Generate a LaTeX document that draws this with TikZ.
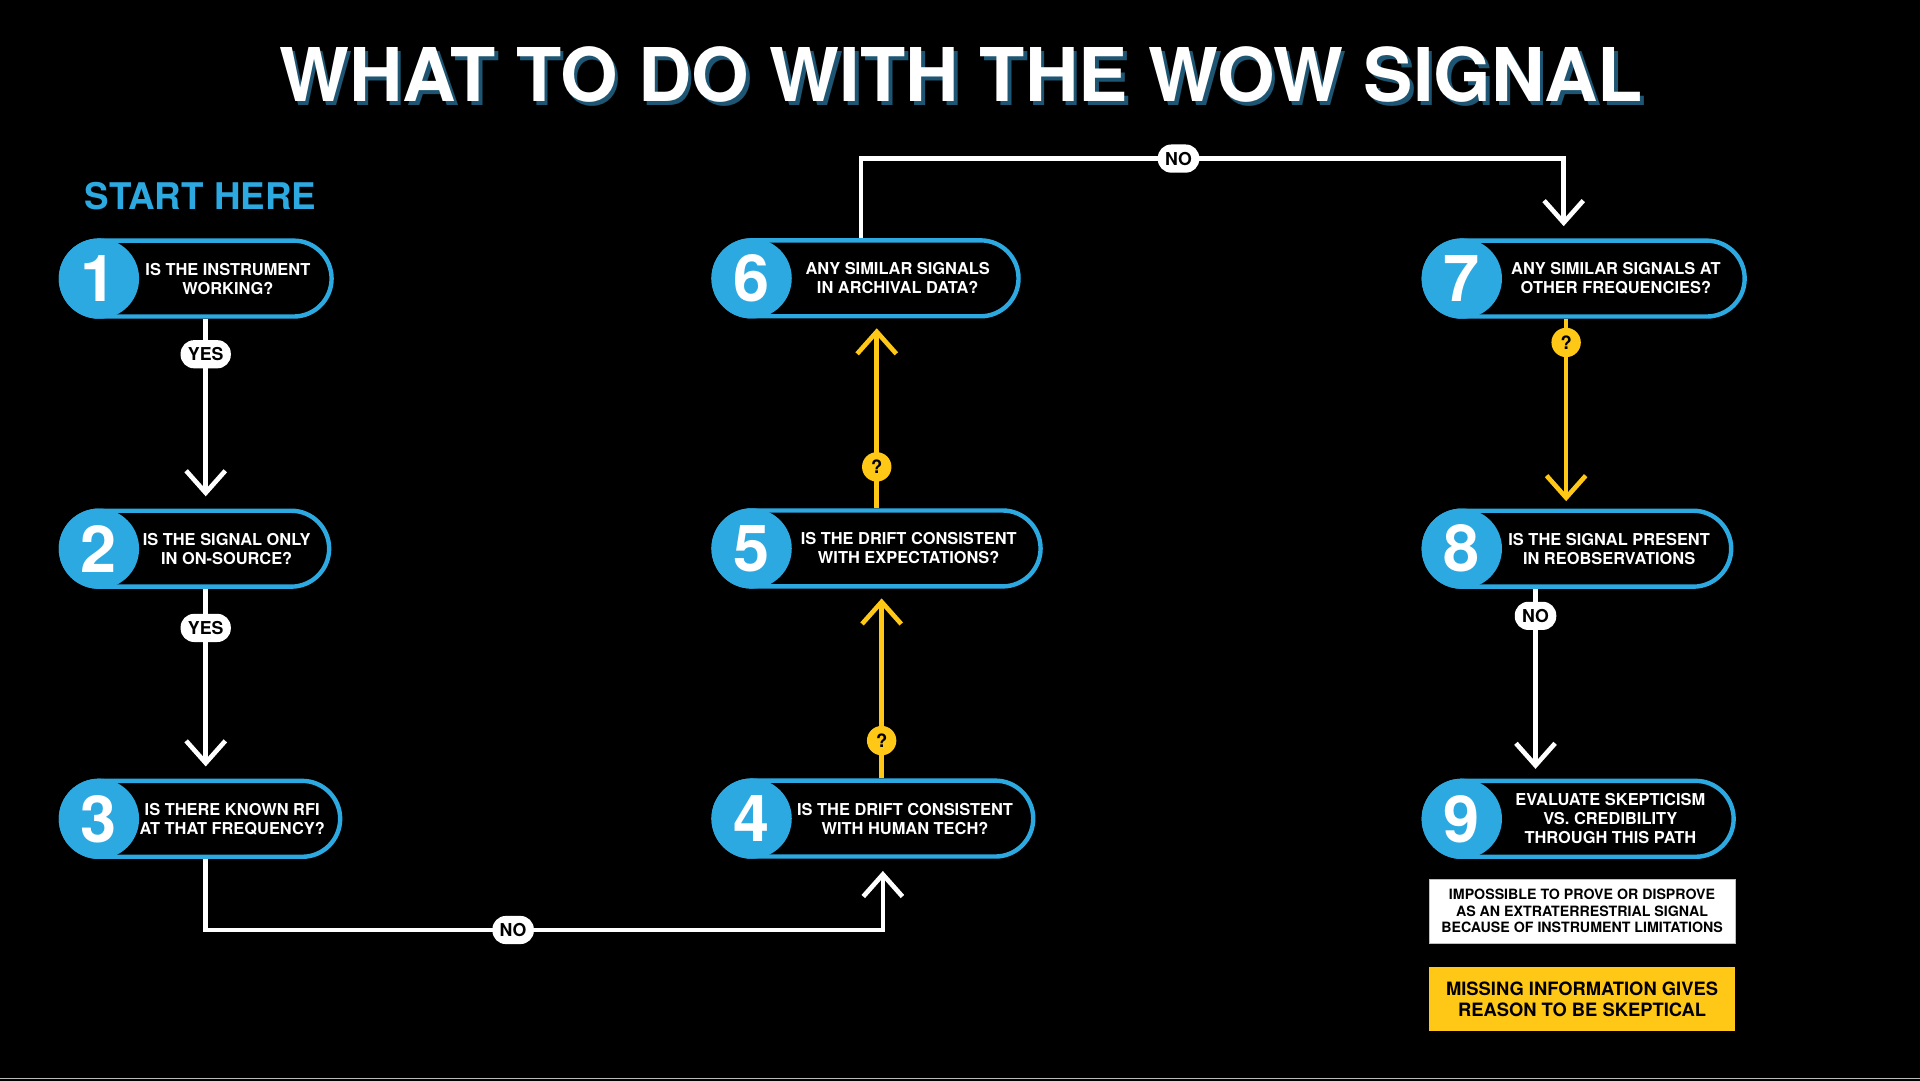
\documentclass[tikz,border=0pt]{standalone}
\usepackage{fontspec}
\setmainfont{TeX Gyre Heros}
\usetikzlibrary{positioning, arrows.meta, calc}

\definecolor{wowblue}{HTML}{2DA9E1}
\definecolor{wowyellow}{HTML}{FFC816}
\definecolor{wowshadow}{HTML}{1D5572}

\begin{document}
\begin{tikzpicture}[x=1pt, y=1pt,
	headline/.style={anchor=base, font=\fontsize{60.5}{60.5}\selectfont\bfseries},
	pill/.style={draw=wowblue, line width=3.6pt, fill=black, rounded corners=31pt, minimum height=62pt, inner sep=0pt},
	disc/.style={circle, draw=wowblue, fill=wowblue, line width=3.6pt, minimum size=62pt, inner sep=0pt, text=white, font=\fontsize{53}{53}\selectfont\bfseries},
	ask/.style={text=white, align=center, inner sep=0pt, xshift=-7pt, font=\fontsize{13.4}{15.5}\selectfont\bfseries},
	flow/.style={draw=white, line width=3.8pt, -{Straight Barb[length=18pt, width=32pt]}},
	maybe/.style={flow, draw=wowyellow},
	yes/.style={fill=white, text=black, rounded corners=11pt, minimum height=23pt, inner xsep=6pt, inner ysep=0pt, font=\fontsize{14.5}{14.5}\selectfont\bfseries},
	qmark/.style={circle, fill=wowyellow, text=black, minimum size=24pt, inner sep=0pt, font=\fontsize{15}{15}\selectfont\bfseries},
	note/.style={text=black, align=center, minimum width=250pt, minimum height=52pt, inner sep=0pt},
]
	\fill[black] (0,0) rectangle (1568,-882.8);
	\useasboundingbox (0,0) rectangle (1568,-882.8);
	\draw[gray!55, line width=1pt] (0,-880.5) -- (1568,-880.5);

	% title
	\node[headline, text=wowshadow] (shadow) at (788,-86) {WHAT TO DO WITH THE WOW SIGNAL};
	\node[headline, text=white] (title) at (785,-83) {WHAT TO DO WITH THE WOW SIGNAL};
	\node[anchor=base west, inner sep=0pt, text=wowblue, font=\fontsize{30}{30}\selectfont\bfseries] (start) at (69,-171.5) {START HERE};

	% first column
	\node[pill, anchor=west, minimum width=221pt] (q1) at (48,-227.5) {};
	\node[pill, below=155pt of q1.south west, anchor=north west, minimum width=219pt] (q2) {};
	\node[pill, below=155pt of q2.south west, anchor=north west, minimum width=228pt] (q3) {};
	% second column
	\node[pill, anchor=west, minimum width=261pt] (q4) at (581,-668.5) {};
	\node[pill, above=155pt of q4.north west, anchor=south west, minimum width=267pt] (q5) {};
	\node[pill, above=155pt of q5.north west, anchor=south west, minimum width=249pt] (q6) {};
	% third column
	\node[pill, anchor=west, minimum width=262pt] (q7) at (1161,-227.5) {};
	\node[pill, below=155pt of q7.south west, anchor=north west, minimum width=251pt] (q8) {};
	\node[pill, below=155pt of q8.south west, anchor=north west, minimum width=253pt] (q9) {};

	\node[disc, anchor=west] (n1) at (q1.west) {1};
	\node[disc, anchor=west] (n2) at (q2.west) {2};
	\node[disc, anchor=west] (n3) at (q3.west) {3};
	\node[disc, anchor=west] (n4) at (q4.west) {4};
	\node[disc, anchor=west] (n5) at (q5.west) {5};
	\node[disc, anchor=west] (n6) at (q6.west) {6};
	\node[disc, anchor=west] (n7) at (q7.west) {7};
	\node[disc, anchor=west] (n8) at (q8.west) {8};
	\node[disc, anchor=west] (n9) at (q9.west) {9};

	\node[ask] (t1) at ($(n1.east)!.5!(q1.east)$) {IS THE INSTRUMENT\\WORKING?};
	\node[ask] (t2) at ($(n2.east)!.5!(q2.east)$) {IS THE SIGNAL ONLY\\IN ON-SOURCE?};
	\node[ask] (t3) at ($(n3.east)!.5!(q3.east)$) {IS THERE KNOWN RFI\\AT THAT FREQUENCY?};
	\node[ask] (t4) at ($(n4.east)!.5!(q4.east)$) {IS THE DRIFT CONSISTENT\\WITH HUMAN TECH?};
	\node[ask] (t5) at ($(n5.east)!.5!(q5.east)$) {IS THE DRIFT CONSISTENT\\WITH EXPECTATIONS?};
	\node[ask] (t6) at ($(n6.east)!.5!(q6.east)$) {ANY SIMILAR SIGNALS\\IN ARCHIVAL DATA?};
	\node[ask] (t7) at ($(n7.east)!.5!(q7.east)$) {ANY SIMILAR SIGNALS AT\\OTHER FREQUENCIES?};
	\node[ask] (t8) at ($(n8.east)!.5!(q8.east)$) {IS THE SIGNAL PRESENT\\IN REOBSERVATIONS};
	\node[ask] (t9) at ($(n9.east)!.5!(q9.east)$) {EVALUATE SKEPTICISM\\VS. CREDIBILITY\\THROUGH THIS PATH};

	% connectors
	\draw[flow] ([xshift=120pt]q1.south west) -- node[yes, pos=.2] {YES} ([xshift=120pt, yshift=10pt]q2.north west);
	\draw[flow] ([xshift=120pt]q2.south west) -- node[yes, pos=.22] {YES} ([xshift=120pt, yshift=10pt]q3.north west);
	\draw[flow] ([xshift=120pt]q3.south west) -- ++(0,-58) -| node[yes, pos=.227] {NO} ([xshift=140pt, yshift=-10pt]q4.south west);
	\draw[maybe] ([xshift=139pt]q4.north west) -- node[qmark, pos=.21] {?} ([xshift=139pt, yshift=-8pt]q5.south west);
	\draw[maybe] ([xshift=135pt]q5.north west) -- node[qmark, pos=.23] {?} ([xshift=135pt, yshift=-8pt]q6.south west);
	\draw[flow] ([xshift=122pt]q6.north west) -- ++(0,65) -| node[yes, pos=.226] {NO} ([xshift=116pt, yshift=10pt]q7.north west);
	\draw[maybe] ([xshift=118pt]q7.south west) -- node[qmark, pos=.13] {?} ([xshift=118pt, yshift=6pt]q8.north west);
	\draw[flow] ([xshift=93pt]q8.south west) -- node[yes, pos=.15] {NO} ([xshift=93pt, yshift=8pt]q9.north west);

	% outcomes
	\node[note, fill=white, draw=gray!50, line width=.6pt, font=\fontsize{11.6}{13.5}\selectfont\bfseries] (impossible) at (1292,-744) {IMPOSSIBLE TO PROVE OR DISPROVE\\AS AN EXTRATERRESTRIAL SIGNAL\\BECAUSE OF INSTRUMENT LIMITATIONS};
	\node[note, fill=wowyellow, font=\fontsize{15}{17}\selectfont\bfseries] (missing) at (1292,-816) {MISSING INFORMATION GIVES\\REASON TO BE SKEPTICAL};
\end{tikzpicture}
\end{document}
